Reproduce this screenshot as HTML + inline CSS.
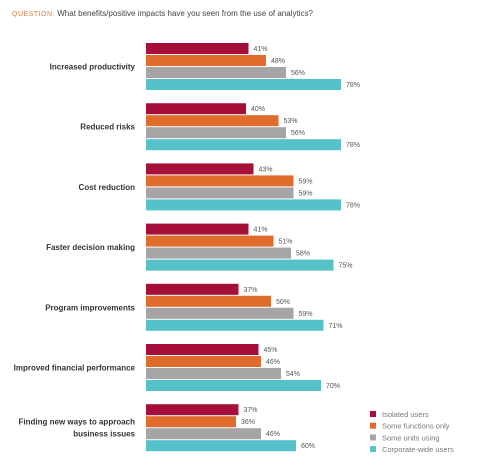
<!DOCTYPE html>
<html><head><meta charset="utf-8"><style>
body{margin:0;width:486px;height:472px;background:#fff;overflow:hidden;font-family:"Liberation Sans",sans-serif}
svg{display:block}
</style></head><body>
<svg id="c" width="486" height="472">
<text x="12" y="16" font-size="8" fill="#444"><tspan fill="#e07a3c" font-size="7" letter-spacing="0.5">QUESTION:</tspan> What benefits/positive impacts have you seen from the use of analytics?</text>
</svg>
<script>
const categories=[["Increased productivity"],["Reduced risks"],["Cost reduction"],["Faster decision making"],["Program improvements"],["Improved financial performance"],["Finding new ways to approach","business issues"]];
const isolated=[41,40,43,41,37,45,37];
const someFunctions=[48,53,59,51,50,46,36];
const someUnits=[56,56,59,58,59,54,46];
const corporate=[78,78,78,75,71,70,60];
const seriesNames=["Isolated users","Some functions only","Some units using","Corporate-wide users"];
const colors=["#a50f3a","#e06c2c","#a6a4a4","#55c1c8"];
const series=[isolated,someFunctions,someUnits,corporate];
const svg=document.getElementById('c');const NS="http://www.w3.org/2000/svg";
const x0=146,pxPer=2.5,groupTop=43,groupPitch=60.2,barPitch=12,barH=11;
const xs=v=>v*pxPer;
function el(t,a){const e=document.createElementNS(NS,t);for(const k in a)e.setAttribute(k,a[k]);svg.appendChild(e);return e;}
categories.forEach((lines,i)=>{
  const gy=groupTop+i*groupPitch;
  const mid=gy+2*barPitch-0.5;
  lines.forEach((ln,j)=>{
    const t=el('text',{x:135,y:mid+3-(lines.length-1)*6+j*12,'font-size':8,'font-weight':'bold','text-anchor':'end',fill:'#333'});
    t.textContent=ln;
    
    
  });
  series.forEach((s,k)=>{
    const y=gy+k*barPitch;
    const r=el('rect',{x:x0,y:y,width:xs(s[i]),height:barH,fill:colors[k]});
    
    
    const t=el('text',{x:x0+xs(s[i])+5,y:y+8,'font-size':7,fill:'#555'});
    t.textContent=s[i]+'%';
    
    
  });
});
seriesNames.forEach((n,k)=>{
  const y=411+k*11.7;
  const r=el('rect',{x:370,y:y,width:6,height:6,fill:colors[k]});
  
  
  const t=el('text',{x:382,y:y+6,'font-size':7.5,fill:'#777'});
  t.textContent=n;
  
  
});
</script>
</body></html>
